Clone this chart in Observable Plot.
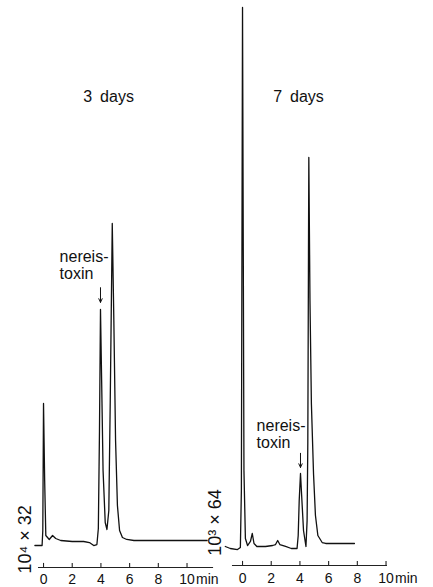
<!DOCTYPE html>
<html><head><meta charset="utf-8">
<script src="https://cdn.jsdelivr.net/npm/d3@7"></script>
<script src="https://cdn.jsdelivr.net/npm/@observablehq/plot@0.6"></script>
<style>
html,body{margin:0;padding:0;background:#fff;}
#chart{width:433px;height:587px;}
</style></head><body><div id="chart"></div>
<script>
// Panels (sampling time after treatment)
const panels = ["3 days", "7 days"];

// Chromatogram traces: retention time (min) vs detector response (relative, 7-day solvent peak = 100)
const day3Time   = [-0.6, -0.1, -0.05, 0, 0.08, 0.16, 0.4, 0.63, 0.85, 1.2, 2.0, 2.8, 3.2, 3.5, 3.72, 3.82, 3.9, 3.97, 4.05, 4.15, 4.3, 4.42, 4.55, 4.65, 4.79, 4.9, 5.02, 5.15, 5.3, 5.5, 5.8, 6.3, 11.4];
const day3Signal = [0.92, 0.92, 3.68, 27.07, 12.9, 2.76, 2.03, 2.76, 2.21, 1.84, 1.66, 1.66, 1.47, 0.92, 1.10, 4.05, 22.1, 44.38, 31.3, 14.7, 5.16, 3.87, 7.37, 27.6, 60.22, 42.4, 20.3, 8.29, 3.68, 2.39, 2.03, 1.84, 1.84];

const day7Time   = [-1.2, -0.85, -0.35, -0.15, -0.08, 0, 0.1, 0.2, 0.35, 0.55, 0.68, 0.8, 1.0, 1.6, 2.1, 2.3, 2.45, 2.6, 3.0, 3.4, 3.8, 3.88, 3.95, 4.04, 4.12, 4.25, 4.42, 4.5, 4.55, 4.62, 4.7, 4.8, 4.95, 5.08, 5.25, 5.55, 5.8, 7.8];
const day7Signal = [0.74, 0.37, 0.18, 0.55, 11.05, 100, 14.7, 2.21, 0.92, 1.66, 3.13, 1.29, 0.74, 0.74, 0.92, 1.10, 1.84, 1.10, 0.74, 0.37, 0.37, 2.76, 9.21, 14.18, 10.13, 3.68, 0.74, 5.5, 20, 72.38, 46, 27, 14, 6.5, 2.76, 1.47, 1.29, 1.29];

// Time axis
const tickMinutes = [0, 2, 4, 6, 8, 10];
const tickLabels  = ["0", "2", "4", "6", "8", "10"];
const unitLabel = "min";
const axisStart = [-0.35, -0.7];
const axisEnd   = [11.85, 10.1];
const axisLevel = [-3.13, -2.76];
const tickLabelLevel = [-5.43, -5.16];

// Annotations
const scaleLabels = ["10⁴ × 32", "10³ × 64"];
const scaleLabelTime  = [-1.25, -1.88];
const scaleLabelLevel = [2.03, 5.16];
const titleTime  = [4.53, 3.9];
const titleLevel = [83.6, 83.6];
const peakLabel = "nereis-\ntoxin";
const peakLabelTime  = [1.12, 0.98];
const peakLabelLevel = [52.5, 21.45];
const arrowTime   = [3.97, 4.04];
const arrowTop    = [48.4, 17.9];
const arrowBottom = [45.7, 15.3];

// Build tables for the library
const trace = [
  ...day3Time.map((t, i) => ({panel: panels[0], t, signal: day3Signal[i]})),
  ...day7Time.map((t, i) => ({panel: panels[1], t, signal: day7Signal[i]}))
];
const axes = panels.map((panel, i) => ({panel, start: axisStart[i], end: axisEnd[i], level: axisLevel[i], labelLevel: tickLabelLevel[i]}));
const ticks = axes.flatMap(a => tickMinutes.map((t, j) => ({panel: a.panel, t, label: tickLabels[j], lo: a.level - 0.15, hi: a.level + 0.75, labelLevel: a.labelLevel})));
const notes = panels.map((panel, i) => ({
  panel, title: panel.replace(" ", "\u2002"), titleTime: titleTime[i], titleLevel: titleLevel[i],
  scale: scaleLabels[i], scaleTime: scaleLabelTime[i], scaleLevel: scaleLabelLevel[i],
  peakTime: peakLabelTime[i], peakLevel: peakLabelLevel[i],
  arrowTime: arrowTime[i], arrowTop: arrowTop[i], arrowBottom: arrowBottom[i],
  lastTick: tickMinutes[tickMinutes.length - 1], labelLevel: tickLabelLevel[i]
}));

const font = "'Liberation Sans', Arial, Helvetica, sans-serif";
const chart = Plot.plot({
  width: 433,
  height: 587,
  marginTop: 0,
  marginBottom: 0,
  marginLeft: 25.8,
  marginRight: 15.9,
  x: {domain: [-1.2, 12.2], axis: null},
  y: {domain: [-6.814, 101.289], axis: null},
  fx: {domain: panels, axis: null, paddingInner: 0.0337, paddingOuter: 0, round: false},
  style: {fontFamily: font, background: "white", color: "black"},
  marks: [
    Plot.line(trace, {x: "t", y: "signal", fx: "panel", stroke: "#111", strokeWidth: 1.3, strokeLinejoin: "round", clip: false}),
    Plot.ruleY(axes, {y: "level", x1: "start", x2: "end", fx: "panel", stroke: "#222", strokeWidth: 1.2}),
    Plot.ruleX(ticks, {x: "t", y1: "lo", y2: "hi", fx: "panel", stroke: "#222", strokeWidth: 1.1}),
    Plot.text(ticks, {x: "t", y: "labelLevel", text: "label", fx: "panel", fontSize: 14, fill: "#111"}),
    Plot.text(notes, {x: "lastTick", y: "labelLevel", text: () => unitLabel, fx: "panel", textAnchor: "start", dx: 9, fontSize: 14, fill: "#111"}),
    Plot.text(notes, {x: "scaleTime", y: "scaleLevel", text: "scale", fx: "panel", rotate: -90, fontSize: 18, fill: "#111"}),
    Plot.text(notes, {x: "titleTime", y: "titleLevel", text: "title", fx: "panel", fontSize: 16, fill: "#111"}),
    Plot.text(notes, {x: "peakTime", y: "peakLevel", text: () => peakLabel, fx: "panel", textAnchor: "start", lineHeight: 1.05, fontSize: 16, fill: "#111"}),
    Plot.arrow(notes, {x1: "arrowTime", y1: "arrowTop", x2: "arrowTime", y2: "arrowBottom", fx: "panel", stroke: "#111", strokeWidth: 1, headLength: 6, headAngle: 50})
  ]
});
document.getElementById("chart").appendChild(chart);
</script></body></html>
